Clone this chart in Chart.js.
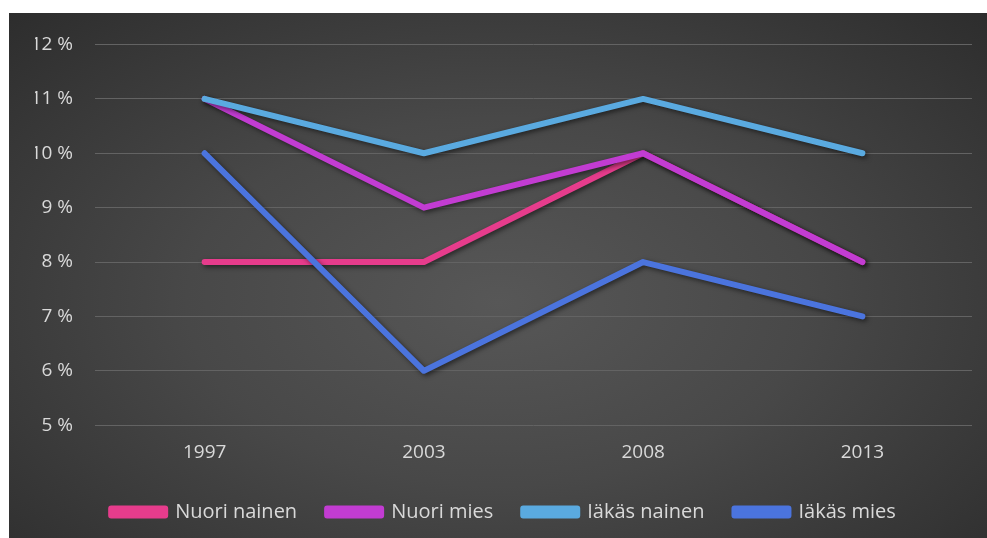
<!DOCTYPE html>
<html>
<head>
<meta charset="utf-8">
<script src="https://cdn.jsdelivr.net/npm/chart.js@4/dist/chart.umd.min.js"></script>
<style>
    html, body { margin: 0; padding: 0; background: #fff; }
    #wrap {
        position: absolute; left: 9px; top: 13px; width: 978px; height: 525px;
        background: radial-gradient(ellipse at 50% 55%, #575757 0%, #484848 45%, #2d2d2d 100%);
    }
</style>
</head>
<body>
<div id="wrap"><canvas id="lineChart" width="978" height="525"></canvas></div>
<script>
const years = ['1997', '2003', '2008', '2013'];
const nuoriNainen = [8, 8, 10, 8];
const nuoriMies = [11, 9, 10, 8];
const iakasNainen = [11, 10, 11, 10];
const iakasMies = [10, 6, 8, 7];

const txt = '#d9d9d9';
const fontFam = "'Open Sans', 'Noto Sans', sans-serif";

// varjo viivoille
const shadowPlugin = {
    id: 'lineShadow',
    beforeDatasetsDraw(chart) {
        const ctx = chart.ctx;
        ctx.save();
        ctx.shadowColor = 'rgba(0,0,0,0.55)';
        ctx.shadowBlur = 5;
        ctx.shadowOffsetX = 2;
        ctx.shadowOffsetY = 2;
    },
    afterDatasetsDraw(chart) {
        chart.ctx.restore();
    }
};

function sarja(label, values, color, order) {
    return {
        label: label,
        data: values,
        borderColor: color,
        backgroundColor: color,
        borderWidth: 6,
        pointRadius: 0,
        borderCapStyle: 'round',
        borderJoinStyle: 'round',
        tension: 0,
        order: order
    };
}

new Chart(document.getElementById('lineChart'), {
    type: 'line',
    data: {
        labels: years,
        datasets: [
            sarja('Nuori nainen', nuoriNainen, '#e63c8c', 4),
            sarja('Nuori mies', nuoriMies, '#c23cd2', 3),
            sarja('Iäkäs nainen', iakasNainen, '#5aaae0', 2),
            sarja('Iäkäs mies', iakasMies, '#4b74de', 1)
        ]
    },
    options: {
        responsive: false,
        animation: false,
        layout: { padding: { top: 10, right: 15, bottom: 6, left: 26 } },
        plugins: {
            tooltip: { enabled: false },
            legend: {
                position: 'bottom',
                labels: {
                    color: txt,
                    font: { family: fontFam, size: 20 },
                    boxWidth: 54,
                    boxHeight: 7,
                    padding: 30,
                    sort: (a, b) => a.datasetIndex - b.datasetIndex
                }
            }
        },
        scales: {
            x: {
                offset: true,
                grid: { display: false },
                border: { display: false },
                ticks: { color: txt, font: { family: fontFam, size: 19 }, padding: 8 }
            },
            y: {
                min: 5,
                max: 12,
                afterFit: (scale) => { scale.width = 60; },
                grid: { color: '#636363', lineWidth: 1, drawTicks: false },
                border: { display: false },
                ticks: {
                    stepSize: 1,
                    color: txt,
                    font: { family: fontFam, size: 19, lineHeight: 1 },
                    padding: 22,
                    callback: v => v + ' %'
                }
            }
        }
    },
    plugins: [shadowPlugin]
});
</script>
</body>
</html>
